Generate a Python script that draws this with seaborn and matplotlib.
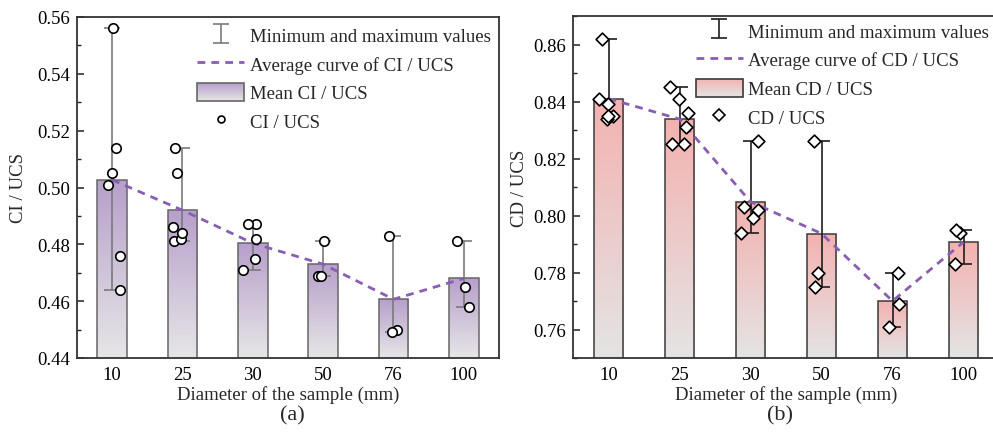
import numpy as np
import pandas as pd
import matplotlib
matplotlib.use("Agg")
import matplotlib.pyplot as plt
import seaborn as sns
from matplotlib.patches import Rectangle
from matplotlib.lines import Line2D
from matplotlib.colors import LinearSegmentedColormap, to_rgb
from matplotlib.ticker import FormatStrFormatter, MultipleLocator

# Sample diameters (mm)
diameters = ["10", "25", "30", "50", "76", "100"]

# CI / UCS measurements per diameter
ci_10 = [0.556, 0.514, 0.501, 0.505, 0.476, 0.464]
ci_25 = [0.514, 0.505, 0.481, 0.482, 0.486, 0.484]
ci_30 = [0.487, 0.487, 0.482, 0.475, 0.471]
ci_50 = [0.481, 0.469, 0.469]
ci_76 = [0.483, 0.450, 0.449]
ci_100 = [0.481, 0.465, 0.458]

# CD / UCS measurements per diameter
cd_10 = [0.862, 0.841, 0.839, 0.835, 0.834, 0.835]
cd_25 = [0.845, 0.841, 0.836, 0.831, 0.825, 0.825]
cd_30 = [0.826, 0.802, 0.803, 0.799, 0.794]
cd_50 = [0.826, 0.780, 0.775]
cd_76 = [0.780, 0.769, 0.761]
cd_100 = [0.794, 0.795, 0.783]

ci_groups = [ci_10, ci_25, ci_30, ci_50, ci_76, ci_100]
cd_groups = [cd_10, cd_25, cd_30, cd_50, cd_76, cd_100]

sns.set_style("ticks")
plt.rcParams["font.family"] = ["Liberation Serif", "DejaVu Serif"]
plt.rcParams["axes.linewidth"] = 1.3
plt.rcParams["xtick.direction"] = "in"
plt.rcParams["ytick.direction"] = "in"

FS = 13.5
LINE_PURPLE = "#8a5db5"


def long_table(groups):
    rows = [(d, v) for d, g in zip(diameters, groups) for v in g]
    return pd.DataFrame(rows, columns=["diameter", "value"])


def blend(c0, c1, t):
    a, b = np.array(to_rgb(c0)), np.array(to_rgb(c1))
    return tuple(a + (b - a) * t)


class GradientBarHandler:
    """Legend handle: a small bar filled with a vertical colour gradient."""

    def __init__(self, top, bottom, edge):
        self.top, self.bottom, self.edge = top, bottom, edge

    def legend_artist(self, legend, orig_handle, fontsize, handlebox):
        x0, y0 = -handlebox.xdescent, -handlebox.ydescent
        w, h = handlebox.width, handlebox.height
        n = 30
        tr = handlebox.get_transform()
        for i in range(n):
            c = blend(self.bottom, self.top, (i + 0.5) / n)
            handlebox.add_artist(Rectangle((x0, y0 + h * i / n), w, h / n * 1.05,
                                           facecolor=c, edgecolor="none", transform=tr))
        border = Rectangle((x0, y0), w, h, facecolor="none", edgecolor=self.edge,
                           lw=1.2, transform=tr)
        handlebox.add_artist(border)
        return border


def panel(ax, groups, ylim, top_col, bot_col, bar_edge, err_col, marker, msize,
          name, ylabel, ylabelpad, legend_anchor, legend_marker_size, seed):
    df = long_table(groups)
    means = df.groupby("diameter", sort=False)["value"].mean().reindex(diameters).to_numpy()
    mins = np.array([min(g) for g in groups])
    maxs = np.array([max(g) for g in groups])

    # mean bars (outline only; the fill is a gradient image clipped to each bar)
    sns.barplot(data=df, x="diameter", y="value", order=diameters, estimator="mean",
                errorbar=None, width=0.42, color=top_col, edgecolor=bar_edge,
                linewidth=1.1, ax=ax, zorder=2)
    ax.set_ylim(*ylim)
    ax.set_xlim(-0.5, 5.5)
    cmap = LinearSegmentedColormap.from_list("grad", [bot_col, top_col])
    grad = np.linspace(0, 1, 256).reshape(-1, 1)
    for p in list(ax.patches):
        x0, w, top = p.get_x(), p.get_width(), p.get_y() + p.get_height()
        p.set_facecolor("none")
        im = ax.imshow(grad, extent=[x0, x0 + w, ylim[0], top], origin="lower",
                       aspect="auto", cmap=cmap, interpolation="bilinear", zorder=1)
        im.set_clip_path(p)

    # min / max range of each group
    err = ax.errorbar(np.arange(len(diameters)), means, yerr=[means - mins, maxs - means],
                      fmt="none", ecolor=err_col, elinewidth=1.2, capsize=6,
                      capthick=1.2, zorder=3)

    # dashed curve through the group means
    sns.pointplot(x=diameters, y=means, order=diameters, color=LINE_PURPLE,
                  linestyle="--", marker="", errorbar=None, ax=ax,
                  linewidth=2.0, dashes=(2.8, 2.2), zorder=4)

    # individual measurements, spread sideways with a small jitter
    np.random.seed(seed)
    sns.stripplot(data=df, x="diameter", y="value", order=diameters, marker=marker,
                  jitter=0.14, size=msize, color="white", edgecolor="black",
                  linewidth=1.2, ax=ax, zorder=5)

    ax.set_ylim(*ylim)
    ax.set_xlim(-0.5, 5.5)
    ax.yaxis.set_major_locator(MultipleLocator(0.02))
    ax.yaxis.set_minor_locator(MultipleLocator(0.01))
    ax.yaxis.set_major_formatter(FormatStrFormatter("%.2f"))
    ax.tick_params(axis="both", which="major", length=5, width=1.1, labelsize=FS,
                   colors="#222222", labelcolor="black")
    ax.tick_params(axis="x", pad=6)
    ax.tick_params(axis="y", pad=5)
    ax.tick_params(axis="y", which="minor", length=3, width=1.0)
    for s in ax.spines.values():
        s.set_visible(True)
        s.set_color("#333333")
    ax.set_xlabel("Diameter of the sample (mm)", fontsize=FS, labelpad=1)
    ax.set_ylabel(ylabel, fontsize=FS, labelpad=ylabelpad)

    handles = [
        err,
        Line2D([], [], color=LINE_PURPLE, ls="--", lw=2.0, dashes=(2.8, 2.2)),
        Rectangle((0, 0), 1, 1),
        Line2D([], [], ls="none", marker=marker, mfc="white", mec="black",
               mew=1.2, ms=legend_marker_size),
    ]
    labels = ["Minimum and maximum values", f"Average curve of {name}",
              f"Mean {name}", name]
    ax.legend(handles, labels, loc="upper left", bbox_to_anchor=legend_anchor,
              frameon=False, fontsize=FS, borderpad=0, borderaxespad=0,
              handlelength=2.5, handleheight=1.1, handletextpad=0.3,
              labelspacing=0.5,
              handler_map={Rectangle: GradientBarHandler(top_col, bot_col, bar_edge)})


fig = plt.figure(figsize=(9.93, 4.35), dpi=100)
ax1 = fig.add_axes([77 / 993, 1 - 359 / 435, 422 / 993, 341 / 435])
ax2 = fig.add_axes([573 / 993, 1 - 359 / 435, 426 / 993, 342 / 435])

panel(ax1, ci_groups, (0.44, 0.56), "#b79fcb", "#e6e6e6", "#666666", "#7a7a7a",
      "o", 6.8, "CI / UCS", "CI / UCS", 7, (0.285, 0.975), 5, 3)
panel(ax2, cd_groups, (0.75, 0.87), "#f3b2b0", "#e4e4e4", "#3a3a3a", "#1e1e1e",
      "D", 6.5, "CD / UCS", "CD / UCS", 3.5, (0.288, 0.985), 6.5, 11)

fig.text(292 / 993, 1 - 416 / 435, "(a)", ha="center", va="center", fontsize=16)
fig.text(780 / 993, 1 - 416 / 435, "(b)", ha="center", va="center", fontsize=16)

fig.savefig("out.png", dpi=100)
